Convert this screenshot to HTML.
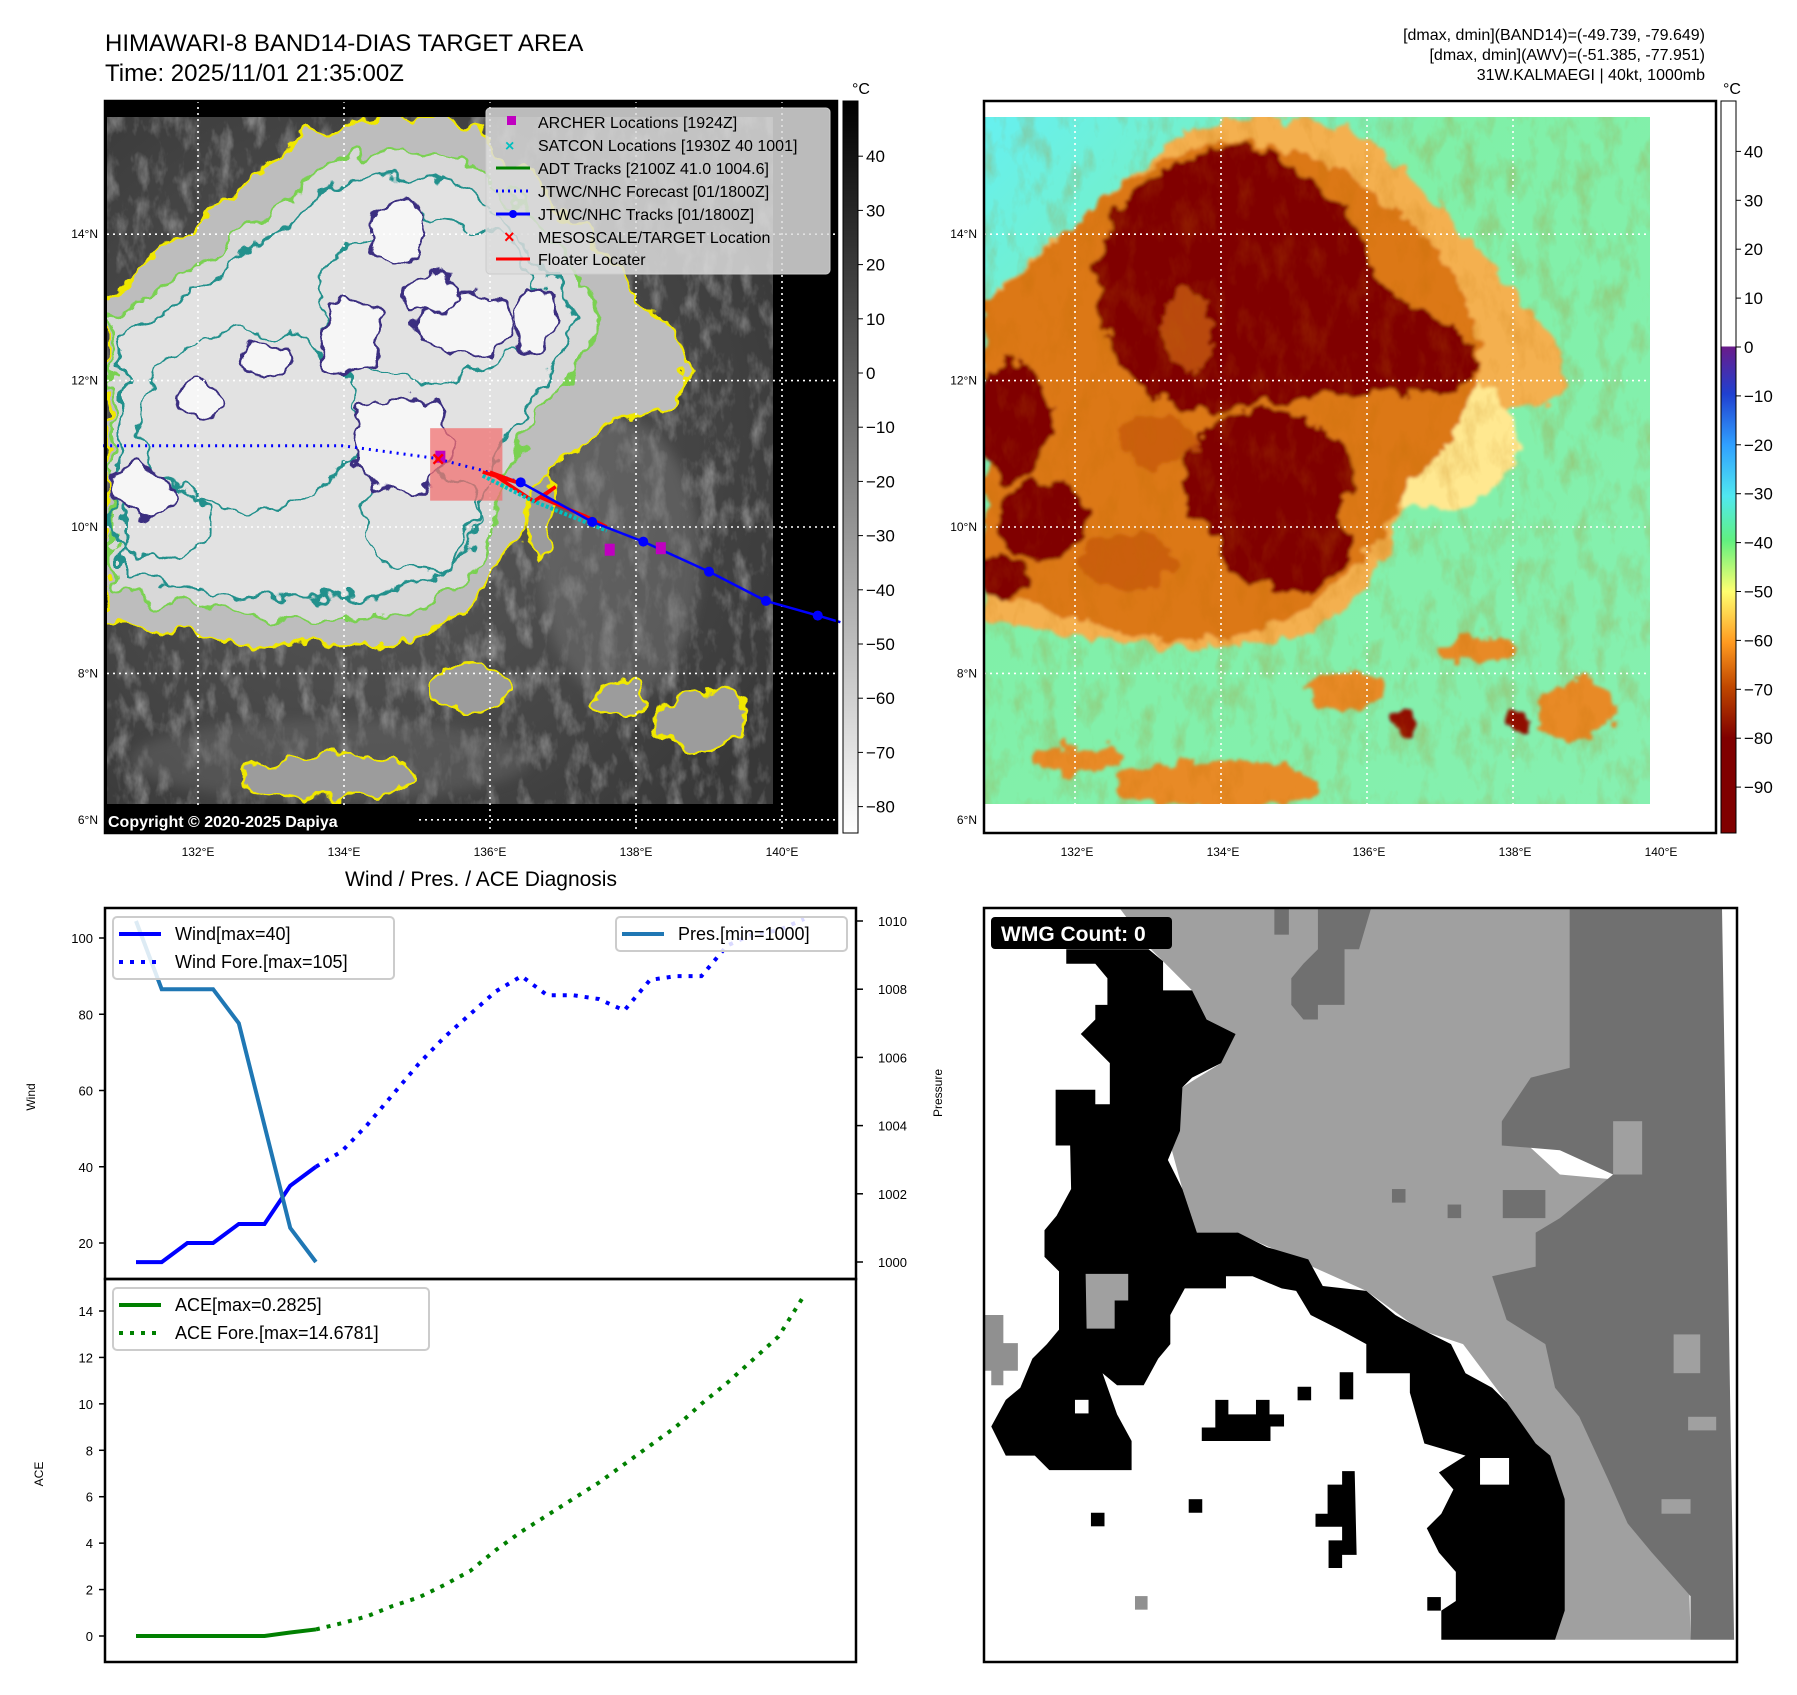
<!DOCTYPE html>
<html><head><meta charset="utf-8"><title>HIMAWARI-8 BAND14 DIAS</title>
<style>
html,body{margin:0;padding:0;background:#fff;}
svg text{font-family:"Liberation Sans","DejaVu Sans",sans-serif;}
</style></head>
<body>
<svg id="root" xmlns="http://www.w3.org/2000/svg" width="1797" height="1690" viewBox="0 0 1797 1690">
<defs>
  <filter id="rough" x="-10%" y="-10%" width="120%" height="120%">
    <feTurbulence type="fractalNoise" baseFrequency="0.035" numOctaves="3" seed="4" result="n"/>
    <feDisplacementMap in="SourceGraphic" in2="n" scale="34" xChannelSelector="R" yChannelSelector="G"/>
  </filter>
  <filter id="rough2" x="-10%" y="-10%" width="120%" height="120%">
    <feTurbulence type="fractalNoise" baseFrequency="0.05" numOctaves="3" seed="9" result="n"/>
    <feDisplacementMap in="SourceGraphic" in2="n" scale="26" xChannelSelector="R" yChannelSelector="G"/>
    <feGaussianBlur stdDeviation="1.5"/>
  </filter>
  <filter id="noiseGray" x="0" y="0" width="100%" height="100%">
    <feTurbulence type="fractalNoise" baseFrequency="0.06 0.03" numOctaves="4" seed="3"/>
    <feColorMatrix type="matrix" values="0 0 0 0 1  0 0 0 0 1  0 0 0 0 1  1.6 0 0 0 -0.75"/>
  </filter>
  <filter id="noiseDark" x="0" y="0" width="100%" height="100%">
    <feTurbulence type="fractalNoise" baseFrequency="0.05 0.025" numOctaves="4" seed="7"/>
    <feColorMatrix type="matrix" values="0 0 0 0 0.5  0 0 0 0 0.15  0 0 0 0 0  1.8 0 0 0 -0.85"/>
  </filter>
  <filter id="soft"><feGaussianBlur stdDeviation="6"/></filter>
  <linearGradient id="cbGray" x1="0" y1="0" x2="0" y2="1">
    <stop offset="0" stop-color="#000"/><stop offset="1" stop-color="#fff"/>
  </linearGradient>
  <linearGradient id="cbColor" x1="0" y1="0" x2="0" y2="1">
    <stop offset="0" stop-color="#fff"/>
    <stop offset="0.3355" stop-color="#fff"/>
    <stop offset="0.3356" stop-color="#6a1b8a"/>
    <stop offset="0.40" stop-color="#2040d0"/>
    <stop offset="0.47" stop-color="#30a0ff"/>
    <stop offset="0.54" stop-color="#50e8f0"/>
    <stop offset="0.60" stop-color="#60f080"/>
    <stop offset="0.67" stop-color="#ffff70"/>
    <stop offset="0.74" stop-color="#ff9a20"/>
    <stop offset="0.80" stop-color="#c04800"/>
    <stop offset="0.87" stop-color="#800000"/>
    <stop offset="1" stop-color="#800000"/>
  </linearGradient>
  <linearGradient id="seaGrad" x1="0" y1="0" x2="1" y2="1">
    <stop offset="0" stop-color="#66f0f0"/><stop offset="0.35" stop-color="#80f0a8"/><stop offset="1" stop-color="#86f0b0"/>
  </linearGradient>
  <radialGradient id="grayBase" cx="0.4" cy="0.5" r="0.7">
    <stop offset="0" stop-color="#5e5e5e"/><stop offset="1" stop-color="#383838"/>
  </radialGradient>
  <clipPath id="clip1"><rect x="107" y="117" width="666" height="687"/></clipPath>
  <clipPath id="clip2"><rect x="107" y="117" width="666" height="687"/></clipPath>
</defs>

<text x="105" y="51" font-size="24">HIMAWARI-8 BAND14-DIAS TARGET AREA</text>
<text x="105" y="81" font-size="24">Time: 2025/11/01 21:35:00Z</text>
<g font-size="16" text-anchor="end">
  <text x="1705" y="40">[dmax, dmin](BAND14)=(-49.739, -79.649)</text>
  <text x="1705" y="60">[dmax, dmin](AWV)=(-51.385, -77.951)</text>
  <text x="1705" y="80">31W.KALMAEGI | 40kt, 1000mb</text>
</g>

<!-- MAP 1 -->
<g id="map1">
  <rect x="105" y="101" width="732" height="732" fill="#000"/>
  <g clip-path="url(#clip1)">
    <rect x="107" y="117" width="666" height="687" fill="url(#grayBase)"/>
    <rect x="107" y="117" width="666" height="687" filter="url(#noiseGray)" opacity="0.55"/>
    <g filter="url(#soft)" opacity="0.45">
      <ellipse cx="620" cy="560" rx="80" ry="140" fill="#7a7a7a"/>
      <ellipse cx="330" cy="760" rx="200" ry="40" fill="#6a6a6a"/>
    </g>
    <g filter="url(#rough)">
      <path d="M107 300 C150 260 220 210 300 135 C360 110 430 115 470 130 C540 170 600 250 650 310 C700 360 700 400 650 410 C580 430 540 470 520 520 C500 590 450 640 380 645 C300 650 200 640 107 620 Z" fill="#bdbdbd" stroke="#f0e800" stroke-width="3"/>
      <path d="M112 320 C170 280 240 240 320 170 C380 140 440 150 480 170 C540 220 580 270 600 320 C590 370 540 400 520 440 C500 520 480 600 400 615 C300 625 200 610 112 590 Z" fill="#d8d8d8" stroke="#7ad151" stroke-width="3"/>
      <path d="M120 340 C180 300 250 260 330 190 C390 165 440 175 470 195 C520 240 560 280 575 320 C560 370 520 400 505 440 C485 510 465 580 395 595 C300 605 200 595 120 570 Z" fill="#e2e2e2" stroke="#21908c" stroke-width="3"/>
      <g fill="none" stroke="#21908c" stroke-width="2.5">
        <ellipse cx="250" cy="420" rx="110" ry="90"/>
        <ellipse cx="430" cy="300" rx="110" ry="80"/>
        <ellipse cx="160" cy="520" rx="50" ry="40"/>
        <ellipse cx="420" cy="520" rx="60" ry="50"/>
      </g>
      <g fill="#f6f6f6" stroke="#3b2f80" stroke-width="3">
        <ellipse cx="395" cy="235" rx="25" ry="35"/>
        <ellipse cx="350" cy="335" rx="28" ry="40"/>
        <ellipse cx="465" cy="325" rx="45" ry="30"/>
        <ellipse cx="535" cy="320" rx="22" ry="28"/>
        <ellipse cx="265" cy="360" rx="24" ry="20"/>
        <ellipse cx="200" cy="400" rx="20" ry="20"/>
        <ellipse cx="400" cy="445" rx="48" ry="48"/>
        <ellipse cx="430" cy="290" rx="25" ry="18"/>
        <ellipse cx="140" cy="490" rx="30" ry="25"/>
      </g>
      <g fill="#9c9c9c" stroke="#f0e800" stroke-width="3">
        <ellipse cx="700" cy="720" rx="45" ry="30"/>
        <ellipse cx="470" cy="690" rx="40" ry="20"/>
        <ellipse cx="620" cy="700" rx="25" ry="18"/>
        <ellipse cx="330" cy="775" rx="90" ry="22"/>
        <ellipse cx="540" cy="520" rx="18" ry="40"/>
      </g>
    </g>
  </g>
  <rect x="773" y="101" width="64" height="732" fill="#000"/>
  <g id="grid1" stroke="#fff" stroke-width="1.6" stroke-dasharray="2 4"></g>
  <g id="tracks1"></g>
  <rect x="105" y="809" width="310" height="24" fill="#000"/>
  <text x="108" y="827" font-size="16" font-weight="bold" fill="#fff">Copyright © 2020-2025 Dapiya</text>
  <rect x="105" y="101" width="732" height="732" fill="none" stroke="#000" stroke-width="2.5"/>
  <g>
    <rect x="486" y="108" width="344" height="166" rx="4" fill="#dcdcdc" fill-opacity="0.85" stroke="#ccc"/>
    <rect x="507" y="116" width="9" height="9" fill="#c000c0"/>
    <text x="505" y="151" font-size="16" font-weight="bold" fill="#00c0c0">×</text>
    <line x1="496" y1="168" x2="530" y2="168" stroke="#008000" stroke-width="3"/>
    <line x1="496" y1="191" x2="530" y2="191" stroke="#0000ff" stroke-width="3" stroke-dasharray="2 4"/>
    <line x1="496" y1="214" x2="530" y2="214" stroke="#0000ff" stroke-width="3"/><circle cx="513" cy="214" r="4" fill="#0000ff"/>
    <text x="504" y="243" font-size="18" font-weight="bold" fill="#ff0000">×</text>
    <line x1="496" y1="259" x2="530" y2="259" stroke="#ff0000" stroke-width="3"/>
    <g font-size="16" fill="#000">
      <text x="538" y="128">ARCHER Locations [1924Z]</text>
      <text x="538" y="151">SATCON Locations [1930Z 40 1001]</text>
      <text x="538" y="174">ADT Tracks [2100Z 41.0 1004.6]</text>
      <text x="538" y="197">JTWC/NHC Forecast [01/1800Z]</text>
      <text x="538" y="220">JTWC/NHC Tracks [01/1800Z]</text>
      <text x="538" y="243">MESOSCALE/TARGET Location</text>
      <text x="538" y="265">Floater Locater</text>
    </g>
  </g>
  <g id="axes1" font-size="12"></g>
  <rect x="843" y="101" width="15" height="732" fill="url(#cbGray)" stroke="#000" stroke-width="1"/>
  <text x="852" y="94" font-size="16">°C</text>
  <g id="cb1" font-size="17"></g>
</g>

<!-- MAP 2 -->
<g id="map2">
  <rect x="984" y="101" width="732" height="732" fill="#fff"/>
  <g transform="translate(877,0)">
    <g clip-path="url(#clip2)">
      <rect x="107" y="117" width="666" height="687" fill="url(#seaGrad)"/>
      <g filter="url(#rough2)">
        <path d="M107 300 C150 260 220 210 300 135 C360 110 430 115 470 130 C540 170 600 250 650 310 C700 360 700 400 650 410 C580 430 540 470 520 520 C500 590 450 640 380 645 C300 650 200 640 107 620 Z" fill="#f4b050"/>
        <ellipse cx="560" cy="440" rx="80" ry="70" fill="#ffe890"/>
        <path d="M107 300 C180 250 250 160 330 145 C420 130 520 190 580 280 C620 360 600 430 540 470 C500 560 430 630 330 640 C240 645 160 600 107 590 Z" fill="#dc7818"/>
        <g fill="#800000">
          <path d="M220 265 C230 205 280 160 340 150 C400 135 410 165 440 185 C480 215 490 250 500 280 C540 320 590 320 600 365 C590 400 530 395 490 395 C430 395 390 405 350 412 C290 418 220 390 220 265 Z"/>
          <ellipse cx="390" cy="480" rx="85" ry="70"/>
          <ellipse cx="410" cy="545" rx="65" ry="45"/>
          <ellipse cx="135" cy="420" rx="40" ry="60"/>
          <ellipse cx="165" cy="520" rx="45" ry="40"/>
          <ellipse cx="125" cy="575" rx="25" ry="20"/>
        </g>
        <g fill="#c85a10" opacity="0.8">
          <ellipse cx="280" cy="440" rx="40" ry="25"/>
          <ellipse cx="250" cy="560" rx="50" ry="30"/>
          <ellipse cx="310" cy="330" rx="25" ry="40"/>
        </g>
        <g fill="#e88a28">
          <ellipse cx="340" cy="785" rx="100" ry="25"/>
          <ellipse cx="200" cy="760" rx="50" ry="15"/>
          <ellipse cx="470" cy="690" rx="40" ry="20"/>
          <ellipse cx="700" cy="710" rx="40" ry="30"/>
          <ellipse cx="600" cy="650" rx="40" ry="12"/>
        </g>
        <g fill="#901000">
          <ellipse cx="525" cy="720" rx="12" ry="12"/>
          <ellipse cx="640" cy="720" rx="12" ry="12"/>
        </g>
      </g>
      <rect x="107" y="117" width="666" height="687" filter="url(#noiseDark)" opacity="0.35"/>
    </g>
    <g id="grid2" stroke="#fff" stroke-width="1.6" stroke-dasharray="2 4"></g>
  </g>
  <rect x="984" y="101" width="732" height="732" fill="none" stroke="#000" stroke-width="2.5"/>
  <g id="axes2" font-size="12"></g>
  <rect x="1721" y="101" width="15" height="732" fill="url(#cbColor)" stroke="#000" stroke-width="1"/>
  <text x="1723" y="94" font-size="16">°C</text>
  <g id="cb2" font-size="17"></g>
</g>

<text x="481" y="886" font-size="21" text-anchor="middle">Wind / Pres. / ACE Diagnosis</text>
<g id="windChart"></g>
<g id="aceChart"></g>

<g>
  <svg x="984" y="908" width="753" height="754" viewBox="0 0 1556 1556" preserveAspectRatio="none">
    <rect x="0" y="0" width="1556" height="1556" fill="#fff"/>
    <polygon fill="#a0a0a0" points="280,0 1210,0 1210,330 1070,440 1190,550 1300,560 1390,560 1400,870 1480,960 1450,1100 1460,1510 1180,1510 1200,1220 1140,1110 1080,1020 990,900 900,870 790,790 700,750 590,700 520,670 440,670 410,580 380,470 410,370 490,320 520,260 460,230 430,170 370,110 340,80"/>
    <polygon fill="#707070" points="1210,0 1525,0 1550,1510 1460,1510 1460,1420 1380,1330 1330,1270 1290,1180 1230,1050 1180,990 1160,900 1080,850 1050,760 1140,740 1140,670 1190,640 1300,550 1190,500 1070,490 1070,440 1130,350 1210,330"/>
    <polygon fill="#707070" points="690,0 800,0 775,85 745,85 745,200 690,200 690,230 660,230 635,200 635,145 660,115 690,85"/>
    <rect x="600" y="0" width="30" height="55" fill="#707070"/>
    <rect x="1072" y="582" width="88" height="58" fill="#707070"/>
    <rect x="843" y="580" width="28" height="28" fill="#707070"/>
    <rect x="958" y="612" width="28" height="28" fill="#707070"/>
    <rect x="1300" y="440" width="60" height="110" fill="#a0a0a0"/>
    <rect x="1425" y="880" width="55" height="80" fill="#a0a0a0"/>
    <rect x="1455" y="1050" width="58" height="28" fill="#a0a0a0"/>
    <rect x="1400" y="1220" width="60" height="30" fill="#a0a0a0"/>
    <polygon fill="#000" points="170,85 340,85 370,110 370,170 430,170 460,230 520,260 490,320 430,350 410,370 405,460 380,520 410,580 440,670 525,670 585,700 670,725 700,780 790,790 850,840 905,870 965,900 995,960 1050,990 1080,1020 1140,1105 1170,1130 1200,1220 1200,1450 1180,1510 945,1510 945,1450 975,1430 975,1370 940,1330 915,1280 945,1250 970,1200 940,1165 995,1130 910,1105 880,1000 880,960 790,960 790,900 735,870 675,840 645,790 615,785 555,760 500,760 500,785 415,785 385,840 385,900 360,930 330,985 275,985 245,960 275,1045 305,1100 305,1160 220,1160 190,1160 135,1160 105,1130 45,1130 15,1070 45,1015 75,990 100,930 130,900 155,870 155,750 125,720 125,665 150,635 180,580 178,490 148,490 148,375 230,375 230,405 260,405 260,320 230,290 200,260 230,230 230,200 255,200 255,145 230,115 170,115"/>
    <rect x="1025" y="1135" width="60" height="55" fill="#fff"/>
    <rect x="188" y="1015" width="28" height="28" fill="#fff"/>
    <polygon fill="#a0a0a0" points="210,755 298,755 298,810 270,810 270,868 212,868"/>
    <polygon fill="#909090" points="0,840 40,840 40,898 70,898 70,955 40,955 40,985 15,985 15,955 0,955"/>
    <polygon fill="#000" points="478,1015 505,1015 505,1045 562,1045 562,1015 590,1015 590,1045 620,1045 620,1070 592,1070 592,1100 450,1100 450,1072 478,1072"/>
    <polygon fill="#000" points="740,1162 766,1162 770,1335 740,1335 740,1362 712,1362 712,1305 740,1305 740,1277 685,1277 685,1250 710,1250 710,1190 740,1190"/>
    <rect x="648" y="988" width="28" height="28" fill="#000"/>
    <rect x="735" y="958" width="28" height="56" fill="#000"/>
    <rect x="423" y="1220" width="28" height="28" fill="#000"/>
    <rect x="221" y="1248" width="28" height="28" fill="#000"/>
    <rect x="916" y="1422" width="28" height="28" fill="#000"/>
    <rect x="312" y="1420" width="26" height="28" fill="#909090"/>
  </svg>
  <rect x="984" y="908" width="753" height="754" fill="none" stroke="#000" stroke-width="2.5"/>
  <rect x="991" y="917" width="181" height="32" rx="4" fill="#000"/>
  <text x="1001" y="941" font-size="21" font-weight="bold" fill="#fff">WMG Count: 0</text>
</g>
</svg>

<script>
var windObsIdx = [0,1,2,3,4,5,6,7];
var windObs = [15,15,20,20,25,25,35,40];
var windFcstIdx = [7,8,9,10,11,12,13,14,15,16,17,18,19,20,21,22,23,24,25,26];
var windFcst = [40,44,51,59,67,74,80,86,90,85,85,84,81,89,90,90,98,101,102,105];
var presObs = [1010,1008,1008,1008,1007,1004,1001,1000];
var aceObs = [0,0,0,0,0,0,0.15,0.2825];
var aceFcst = [0.2825,0.55,0.85,1.3,1.66,2.2,2.8,3.7,4.5,5.2,5.9,6.6,7.4,8.2,9.0,10.0,10.9,11.9,12.9,14.6781];
var windTicks = [20,40,60,80,100];
var presTicks = [1000,1002,1004,1006,1008,1010];
var aceTicks = [0,2,4,6,8,10,12,14];
var lonTicks = [132,134,136,138,140];
var latTicks = [6,8,10,12,14];
var trackLon = [136.42,137.4,138.1,139.0,139.78,140.49,140.8];
var trackLat = [10.61,10.07,9.80,9.39,8.99,8.79,8.70];
var fcstLon = [130.7,133.98,135.24,135.87,136.42];
var fcstLat = [11.11,11.11,10.94,10.78,10.61];
var archerLon = [135.32,137.64,138.34];
var archerLat = [10.96,9.69,9.71];
var floaterLon = [135.9,136.4,136.0,136.6,136.9,136.7,137.3,137.6];
var floaterLat = [10.75,10.6,10.75,10.35,10.55,10.4,10.15,10.0];
var cb1Ticks = [40,30,20,10,0,-10,-20,-30,-40,-50,-60,-70,-80];
var cb2Ticks = [40,30,20,10,0,-10,-20,-30,-40,-50,-60,-70,-80,-90];

var NS = 'http://www.w3.org/2000/svg';
function mk(tag, attrs, parent){ var e=document.createElementNS(NS,tag); for(var k in attrs) e.setAttribute(k,attrs[k]); if(parent) parent.appendChild(e); return e; }
function fmt(v){ return v<0 ? '\u2212'+Math.abs(v) : String(v); }

function lonX(l){ return 490 + (l-136)*73; }
function latY(l){ return 527 + (10-l)*73.2; }
['grid1','grid2'].forEach(function(id){
  var g=document.getElementById(id);
  lonTicks.forEach(function(l){ var ln=mk('line',{x1:lonX(l),y1:101,x2:lonX(l),y2:833},g);   });
  latTicks.forEach(function(l){ var ln=mk('line',{x1:107,y1:latY(l),x2:835,y2:latY(l)},g);   });
});
[['axes1',0],['axes2',879]].forEach(function(a){
  var g=document.getElementById(a[0]), off=a[1];
  lonTicks.forEach(function(l){ var t=mk('text',{x:lonX(l)+off,y:856,'text-anchor':'middle'},g); t.textContent=l+'°E';   });
  latTicks.forEach(function(l){ var t=mk('text',{x:98+off,y:latY(l)+4,'text-anchor':'end'},g); t.textContent=l+'°N';   });
});
function cb1Y(v){ return 373 + (0-v)*5.42; }
function cb2Y(v){ return 347 + (0-v)*4.89; }
var g1=document.getElementById('cb1');
cb1Ticks.forEach(function(v){ mk('line',{x1:858,y1:cb1Y(v),x2:863,y2:cb1Y(v),stroke:'#000'},g1); var t=mk('text',{x:866,y:cb1Y(v)+6},g1); t.textContent=fmt(v);   });
var g2=document.getElementById('cb2');
cb2Ticks.forEach(function(v){ mk('line',{x1:1736,y1:cb2Y(v),x2:1741,y2:cb2Y(v),stroke:'#000'},g2); var t=mk('text',{x:1744,y:cb2Y(v)+6},g2); t.textContent=fmt(v);   });

var tg=document.getElementById('tracks1');
var box=mk('rect',{x:lonX(135.18),y:latY(11.35),width:lonX(136.17)-lonX(135.18),height:latY(10.36)-latY(11.35),fill:'#f07070','fill-opacity':'0.75'},tg);
 
function pts(lo,la){ return lo.map(function(v,i){return lonX(v)+','+latY(la[i]);}).join(' '); }
var fl=mk('polyline',{points:pts(fcstLon,fcstLat),fill:'none',stroke:'#0000ff','stroke-width':3,'stroke-dasharray':'2 5'},tg);
 
var fll=mk('polyline',{points:pts(floaterLon,floaterLat),fill:'none',stroke:'#ff0000','stroke-width':3.5},tg);
 
var sat=mk('polyline',{points:pts([135.9,136.6,137.6],[10.7,10.35,9.95]),fill:'none',stroke:'#00c0c0','stroke-width':4,'stroke-dasharray':'3 2'},tg);
 
var tl=mk('polyline',{points:pts(trackLon,trackLat),fill:'none',stroke:'#0000ff','stroke-width':2.5},tg);
 
trackLon.slice(0,6).forEach(function(l,i){ var c=mk('circle',{cx:lonX(l),cy:latY(trackLat[i]),r:5,fill:'#0000ff'},tg);   });
archerLon.forEach(function(l,i){ var r=mk('rect',{x:lonX(l)-5,y:latY(archerLat[i])-6,width:10,height:12,fill:'#c000c0'},tg);   });
var mx=mk('text',{x:lonX(135.29),y:latY(10.92)+7,'text-anchor':'middle','font-size':22,'font-weight':'bold',fill:'#ff0000'},tg);
mx.textContent='×';  

var L=105, R=856, T=908, M=1279, B=1662;
function xI(i){ return 136 + i*25.7; }
function yW(v){ return 938 + (100-v)*(1243-938)/80; }
function yP(v){ return 921 + (1010-v)*(1262-921)/10; }
function yA(v){ return 1636 - v*(1636-1311)/14; }
var wc=document.getElementById('windChart');
var ac=document.getElementById('aceChart');
function line(parent, idx, vals, yf, attrs, name){
  var p=mk('polyline',attrs,parent);
  p.setAttribute('points', idx.map(function(i,k){return xI(i)+','+yf(vals[k]);}).join(' '));
  p.setAttribute('fill','none');
  
  
  return p;
}
var obsIdx=[0,1,2,3,4,5,6,7];
line(wc, windFcstIdx, windFcst, yW, {stroke:'#0000ff','stroke-width':4,'stroke-dasharray':'4 7'}, 'wind-forecast-line');
line(wc, windObsIdx, windObs, yW, {stroke:'#0000ff','stroke-width':4}, 'wind-line');
line(wc, obsIdx, presObs, yP, {stroke:'#1f77b4','stroke-width':4}, 'pressure-line');
line(ac, windFcstIdx, aceFcst, yA, {stroke:'#008000','stroke-width':4,'stroke-dasharray':'4 7'}, 'ace-forecast-line');
line(ac, obsIdx, aceObs, yA, {stroke:'#008000','stroke-width':4}, 'ace-line');
mk('rect',{x:L,y:T,width:R-L,height:M-T,fill:'none',stroke:'#000','stroke-width':2.5},wc);
mk('rect',{x:L,y:M,width:R-L,height:B-M,fill:'none',stroke:'#000','stroke-width':2.5},ac);
windTicks.forEach(function(v){ mk('line',{x1:L-6,y1:yW(v),x2:L,y2:yW(v),stroke:'#000','stroke-width':1.5},wc); var t=mk('text',{x:L-12,y:yW(v)+5,'text-anchor':'end','font-size':13},wc); t.textContent=v;   });
presTicks.forEach(function(v){ mk('line',{x1:R,y1:yP(v),x2:R+7,y2:yP(v),stroke:'#000','stroke-width':1.5},wc); var t=mk('text',{x:878,y:yP(v)+5,'font-size':13},wc); t.textContent=v;   });
aceTicks.forEach(function(v){ mk('line',{x1:L-6,y1:yA(v),x2:L,y2:yA(v),stroke:'#000','stroke-width':1.5},ac); var t=mk('text',{x:L-12,y:yA(v)+5,'text-anchor':'end','font-size':13},ac); t.textContent=v;   });
var wt=mk('text',{x:0,y:0,'font-size':12,'text-anchor':'middle',transform:'translate(35,1097) rotate(-90)'},wc); wt.textContent='Wind';  
var pt=mk('text',{x:0,y:0,'font-size':12,'text-anchor':'middle',transform:'translate(942,1093) rotate(-90)'},wc); pt.textContent='Pressure';  
var at=mk('text',{x:0,y:0,'font-size':12,'text-anchor':'middle',transform:'translate(43,1474) rotate(-90)'},ac); at.textContent='ACE';  

function legend(parent,x,y,w,h,items,name){
  var g=mk('g',{},parent);
  
  
  mk('rect',{x:x,y:y,width:w,height:h,rx:4,fill:'#fff','fill-opacity':0.85,stroke:'#ccc','stroke-width':2},g);
  items.forEach(function(it,k){
    var yy=y+17+k*28;
    var ln=mk('line',{x1:x+6,y1:yy,x2:x+48,y2:yy,stroke:it.c,'stroke-width':4},g);
    if(it.d) ln.setAttribute('stroke-dasharray','4 7');
    var t=mk('text',{x:x+62,y:yy+6,'font-size':18},g); t.textContent=it.t;
  });
}
legend(wc,113,917,281,62,[{c:'#0000ff',t:'Wind[max=40]'},{c:'#0000ff',d:1,t:'Wind Fore.[max=105]'}],'wind-legend');
legend(wc,616,917,231,34,[{c:'#1f77b4',t:'Pres.[min=1000]'}],'pressure-legend');
legend(ac,113,1288,316,62,[{c:'#008000',t:'ACE[max=0.2825]'},{c:'#008000',d:1,t:'ACE Fore.[max=14.6781]'}],'ace-legend');
</script>
</body></html>
